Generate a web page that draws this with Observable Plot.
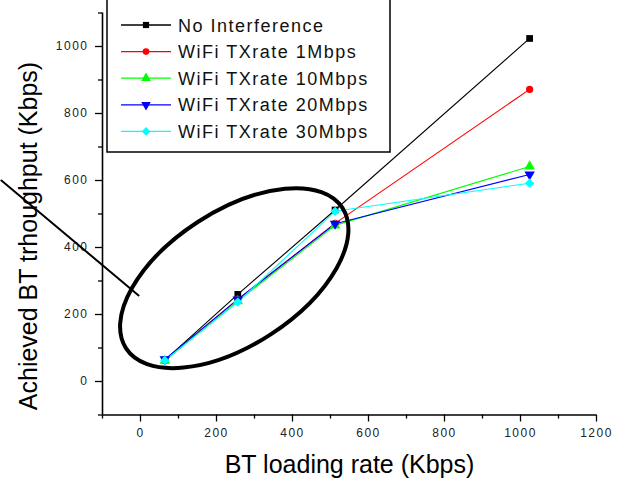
<!DOCTYPE html>
<html><head><meta charset="utf-8">
<script src="https://cdn.jsdelivr.net/npm/d3@7"></script>
<script src="https://cdn.jsdelivr.net/npm/@observablehq/plot@0.6"></script>
<style>
body{margin:0;background:#fff;}
#chart{position:relative;width:621px;height:480px;overflow:hidden;background:#fff;}
</style></head><body><div id="chart"></div>
<script>
// ---- data ----
const xValues = [64, 256, 512, 1024];
const seriesNames = ["No Interference", "WiFi TXrate 1Mbps", "WiFi TXrate 10Mbps", "WiFi TXrate 20Mbps", "WiFi TXrate 30Mbps"];
const noInterference = [64, 260, 512, 1024];
const wifi1Mbps = [63, 245, 472, 872];
const wifi10Mbps = [62, 240, 466, 642];
const wifi20Mbps = [66, 245, 471, 618];
const wifi30Mbps = [63, 237, 508, 592];
const xMajorTicks = [0, 200, 400, 600, 800, 1000, 1200];
const xMinorTicks = [-100, 100, 300, 500, 700, 900, 1100];
const yMajorTicks = [0, 200, 400, 600, 800, 1000];
const yMinorTicks = [-100, 100, 300, 500, 700, 900, 1100];
const xTitle = "BT loading rate (Kbps)";
const yTitle = "Achieved BT trhoughput (Kbps)";
// annotation (data units)
const pointerX = [-366, -5];
const pointerY = [600, 257];
const ellipseCenterX = 248;
const ellipseCenterY = 307;

// ---- styles ----
const colors = ["#000000", "#ff0000", "#00ff00", "#0000ff", "#00ffff"];
const triangleDown = {
  draw(context, size) {
    const y = -Math.sqrt(size / (Math.sqrt(3) * 3));
    context.moveTo(0, -y * 2);
    context.lineTo(-Math.sqrt(3) * y, y);
    context.lineTo(Math.sqrt(3) * y, y);
    context.closePath();
  }
};
const symbols = [d3.symbolSquare, d3.symbolCircle, d3.symbolTriangle, triangleDown, d3.symbolDiamond2];
const radii = [3.8, 3.6, 3.9, 3.9, 4.2];

const seriesValues = [noInterference, wifi1Mbps, wifi10Mbps, wifi20Mbps, wifi30Mbps];
const series = seriesNames.map((name, i) => ({
  name, color: colors[i], symbol: symbols[i], r: radii[i],
  rows: xValues.map((x, j) => ({x, y: seriesValues[i][j]}))
}));
const pointer = pointerX.map((x, i) => ({x, y: pointerY[i]}));

const font = "'Liberation Sans', Arial, sans-serif";
const fmt = d3.format("d");

const marks = [
  Plot.ruleY([-100], {stroke: "black", strokeWidth: 1.6}),
  Plot.ruleX([-100], {stroke: "black", strokeWidth: 1.6}),
  Plot.axisX(xMinorTicks, {tickSize: 4, tickFormat: () => "", strokeWidth: 1.3, label: null}),
  Plot.axisX(xMajorTicks, {tickSize: 7, tickPadding: 6, fontSize: 12, strokeWidth: 1.3, label: null, fill: "#222", tickFormat: fmt}),
  Plot.axisY(yMinorTicks, {tickSize: 4, tickFormat: () => "", strokeWidth: 1.3, label: null}),
  Plot.axisY(yMajorTicks, {tickSize: 7, tickPadding: 7, fontSize: 12, strokeWidth: 1.3, label: null, fill: "#222", tickFormat: fmt}),
  Plot.text([xTitle], {text: d => d, frameAnchor: "bottom", textAnchor: "middle", lineAnchor: "middle", dy: 50, fontSize: 25, fill: "black"}),
  Plot.text([yTitle], {text: d => d, frameAnchor: "left", textAnchor: "middle", lineAnchor: "middle", rotate: -90, dx: -73.5, dy: 22, fontSize: 25, fill: "black"}),
  Plot.line(pointer, {x: "x", y: "y", stroke: "black", strokeWidth: 2})
];
for (const s of series) {
  marks.push(Plot.line(s.rows, {x: "x", y: "y", stroke: s.color, strokeWidth: 1.1}));
}
for (const s of series) {
  marks.push(Plot.dot(s.rows, {x: "x", y: "y", symbol: s.symbol, r: s.r, fill: s.color, stroke: "none"}));
}

const plot = Plot.plot({
  width: 621,
  height: 480,
  marginLeft: 102,
  marginRight: 25,
  marginTop: 12.5,
  marginBottom: 65.5,
  x: {domain: [-100, 1200], label: null},
  y: {domain: [-100, 1100], label: null},
  style: {fontFamily: font, background: "white", color: "black", overflow: "visible"},
  marks
});

document.getElementById("chart").appendChild(plot);

const svg = d3.select(plot);
svg.selectAll('g[aria-label$="tick label"] text').attr("letter-spacing", "1.5px");

// legend box
const leg = svg.append("g").attr("text-anchor", "start");
leg.append("rect").attr("x", 107).attr("y", -5).attr("width", 283).attr("height", 157)
  .attr("fill", "white").attr("stroke", "black").attr("stroke-width", 1.5);
series.forEach((s, i) => {
  const y = 25 + i * 26.6;
  leg.append("line").attr("x1", 121).attr("x2", 171).attr("y1", y).attr("y2", y)
    .attr("stroke", s.color).attr("stroke-width", 1.3);
  leg.append("path").attr("d", d3.symbol(s.symbol, Math.PI * s.r * s.r * 0.85)())
    .attr("transform", `translate(146,${y})`).attr("fill", s.color);
  leg.append("text").attr("x", 178).attr("y", y + 6.5).text(s.name)
    .attr("text-anchor", "start")
    .attr("font-size", 18).attr("letter-spacing", "1.5px").attr("fill", "#111")
    .attr("font-family", font);
});

// ellipse annotation
const sx = plot.scale("x"), sy = plot.scale("y");
const cx = sx.apply(ellipseCenterX), cy = sy.apply(ellipseCenterY);
svg.append("ellipse").attr("cx", cx).attr("cy", cy).attr("rx", 129).attr("ry", 67)
  .attr("transform", `rotate(-33,${cx},${cy})`)
  .attr("fill", "none").attr("stroke", "black").attr("stroke-width", 4);
</script></body></html>
